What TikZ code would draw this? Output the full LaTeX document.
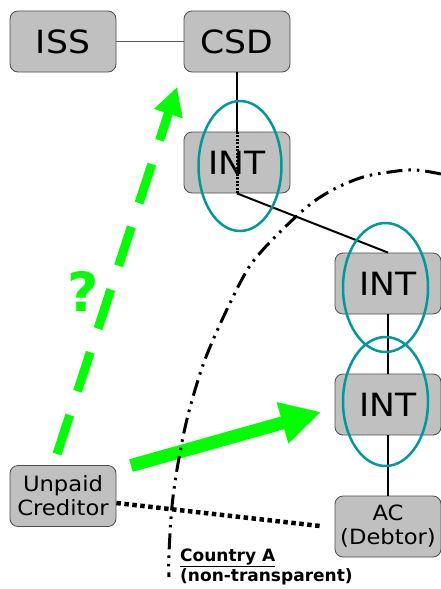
\documentclass[tikz,border=0pt]{standalone}
\usepackage{fontspec}
\setmainfont{DejaVu Sans}
\newfontfamily\boxfont[FakeStretch=1.08]{DejaVu Sans}
\usetikzlibrary{arrows.meta}
\definecolor{boxgray}{HTML}{C0C0C0}
\definecolor{ringteal}{HTML}{009999}
\definecolor{lgreen}{HTML}{00FF00}
\begin{document}
\begin{tikzpicture}[x=1pt,y=-1pt,
  box/.style={draw=black!70, line width=0.8pt, fill=boxgray, rounded corners=8pt,
    minimum width=106pt, minimum height=61pt, inner sep=0pt, align=center},
  big/.style={font=\boxfont\fontsize{32}{38}\selectfont},
  small/.style={font=\boxfont\fontsize{21}{24}\selectfont},
  link/.style={line width=2pt, draw=black},
  thinlink/.style={line width=1pt, draw=black!65},
  ring/.style={draw=ringteal, line width=2.5pt},
  border/.style={line width=3pt, draw=black,
    dash pattern=on 16pt off 6pt on 2.5pt off 6pt on 2.5pt off 6pt},
  greenarrow/.style={draw=lgreen},
  lbl/.style={font=\bfseries\fontsize{17}{20}\selectfont, inner sep=0pt, anchor=base west}]
\useasboundingbox (0,0) rectangle (441,589);

% boxes
\node[box,big] (ISS) at (63,41.5) {ISS};
\node[box,big] (CSD) at (237,41.5) {CSD};
\node[box,big] (INT1) at (237,162.5) {INT};
\node[box,big] (INT2) at (388,283.5) {INT};
\node[box,big] (INT3) at (388,404.5) {INT};
\node[box,small] (AC) at (388,526.5) {AC\\(Debtor)};
\node[box,small] (UC) at (63,496) {Unpaid\\Creditor};

% links
\draw[thinlink] (ISS) -- (CSD);
\draw[link] (CSD.south) -- (INT1.north);
\draw[line width=3pt, dash pattern=on 2pt off 1.5pt] (INT1.north) -- (INT1.south);
\draw[link] (INT1.south) -- (INT2.north);
\draw[link] (INT2.south) -- (INT3.north);
\draw[link] (INT3.south) -- (AC.north);

% rings
\draw[ring] (240,166) ellipse [x radius=41.5, y radius=65];
\draw[ring] (385.5,287.5) ellipse [x radius=42.5, y radius=64.5];
\draw[ring] (385.5,401.5) ellipse [x radius=42.5, y radius=64.5];

% green arrows
\coordinate (q0) at (57,454);
\coordinate (q1) at (177,87);
\draw[greenarrow, line width=9pt, dash pattern=on 41pt off 25pt,
  -{Triangle[length=28pt,width=28pt]}] (q0) -- (q1);
\node[text=lgreen, font=\bfseries\fontsize{54}{54}\selectfont, inner sep=0pt] (qm) at (83.5,291.5) {?};
\coordinate (g0) at (131,465.5);
\coordinate (g1) at (321,412);
\draw[greenarrow, line width=13pt, -{Triangle[length=40pt,width=40pt]}] (g0) -- (g1);

% border of country A
\draw[border] plot[smooth, tension=0.6] coordinates {(441,174) (415,170) (390,172) (360,178) (327,193) (300,213) (260,253) (240,283) (210,347) (195,390) (183,437) (173,497) (169,553) (169,577)};

% dotted relation
\coordinate (dl) at (320,526);
\draw[line width=4.5pt, dash pattern=on 4.5pt off 3.5pt] ([yshift=-7pt]UC.east) -- (dl);

% label
\node[lbl] (ca) at (180,561) {\underline{Country A}};
\node[lbl] (nt) at (180,581) {(non-transparent)};
\end{tikzpicture}
\end{document}
